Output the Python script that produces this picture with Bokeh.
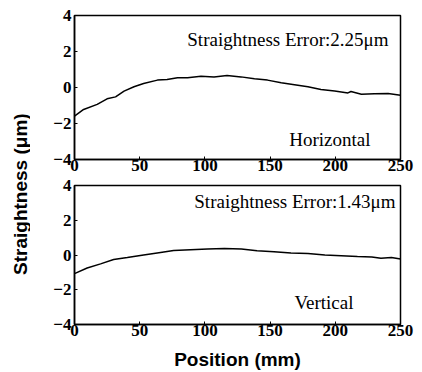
from bokeh.plotting import figure
from bokeh.layouts import row, column
from bokeh.models import Label, Range1d, FixedTicker
from bokeh.embed import file_html
from bokeh.resources import INLINE
import math

# Horizontal straightness data
h_pos = [0, 7, 17.4, 25, 31.5, 38, 45.6, 53, 63.6, 71, 79, 86.7, 97, 107, 117, 127.7,
         138, 148, 158.5, 168.7, 179, 189, 199.5, 209.7, 212, 220, 230, 240.5, 250]
h_err = [-1.59, -1.22, -0.94, -0.63, -0.52, -0.20, 0.04, 0.22, 0.41, 0.44, 0.54, 0.54,
         0.63, 0.59, 0.67, 0.59, 0.48, 0.41, 0.26, 0.15, 0.04, -0.11, -0.19, -0.30,
         -0.22, -0.37, -0.35, -0.33, -0.43]

# Vertical straightness data
v_pos = [0, 9.7, 20, 30, 40.5, 53, 66, 76, 89, 102, 115, 128, 140, 153, 166, 179,
         192, 204.5, 217, 228, 235, 243, 250]
v_err = [-1.07, -0.75, -0.51, -0.26, -0.15, 0.0, 0.15, 0.26, 0.30, 0.34, 0.38, 0.34,
         0.24, 0.19, 0.11, 0.08, 0.0, -0.04, -0.08, -0.11, -0.19, -0.15, -0.23]

x_ticks = [0, 50, 100, 150, 200, 250]
y_ticks = [-4, -2, 0, 2, 4]
panel_text = ["Straightness Error:2.25\u03bcm", "Straightness Error:1.43\u03bcm"]
panel_name = ["Horizontal", "Vertical"]

SERIF = "Liberation Serif"
SANS = "Liberation Sans"


def make_panel(xs, ys, err_txt, name, height, top, bottom, err_pos, name_pos, xlabel=None):
    p = figure(width=392, height=height, output_backend="svg", toolbar_location=None,
               x_range=Range1d(0, 250), y_range=Range1d(-4, 4),
               min_border_left=44, min_border_right=22,
               min_border_top=top, min_border_bottom=bottom)
    p.grid.visible = False
    p.outline_line_color = "black"
    p.outline_line_width = 1.5
    p.background_fill_color = "white"
    p.border_fill_color = "white"
    for ax in (p.xaxis[0], p.yaxis[0]):
        ax.axis_line_width = 1.5
        ax.major_tick_in = 3
        ax.major_tick_out = 0
        ax.minor_tick_in = 0
        ax.minor_tick_out = 0
        ax.major_label_text_font = SERIF
        ax.major_label_text_font_size = "17px"
        ax.major_label_text_font_style = "bold"
        ax.major_label_text_color = "black"
    p.xaxis.ticker = FixedTicker(ticks=x_ticks)
    p.yaxis.ticker = FixedTicker(ticks=y_ticks)
    p.xaxis.major_label_standoff = 0
    p.yaxis.major_label_standoff = 3
    if xlabel:
        p.xaxis.axis_label = xlabel
        p.xaxis.axis_label_text_font = SANS
        p.xaxis.axis_label_text_font_size = "19px"
        p.xaxis.axis_label_text_font_style = "bold"
        p.xaxis.axis_label_text_color = "black"
        p.xaxis.axis_label_standoff = 10
    p.line(xs, ys, line_color="black", line_width=1.5)
    p.add_layout(Label(x=err_pos[0], y=err_pos[1], x_units="screen", y_units="screen",
                       text=err_txt, text_font=SERIF, text_font_size="19px",
                       text_align="right", text_baseline="middle", text_color="black"))
    p.add_layout(Label(x=name_pos[0], y=name_pos[1], x_units="screen", y_units="screen",
                       text=name, text_font=SERIF, text_font_size="19px",
                       text_align="right", text_baseline="middle", text_color="black"))
    return p


# screen positions relative to the plot frame (x from left, y from bottom)
top = make_panel(h_pos, h_err, panel_text[0], panel_name[0], 175, 15, 16,
                 (314, 120), (296, 20))
bot = make_panel(v_pos, v_err, panel_text[1], panel_name[1], 197, 10, 45,
                 (321, 123), (279, 22), "Position (mm)")

lab = figure(width=30, height=372, output_backend="svg", toolbar_location=None,
             x_range=Range1d(0, 1), y_range=Range1d(0, 1),
             min_border=0)
lab.axis.visible = False
lab.grid.visible = False
lab.outline_line_color = None
lab.add_layout(Label(x=20, y=181, x_units="screen", y_units="screen",
                     text="Straightness  (\u03bcm)", angle=math.pi / 2,
                     text_font=SANS, text_font_size="19px", text_font_style="bold",
                     text_align="center", text_baseline="middle", text_color="black"))

layout = row(lab, column(top, bot, spacing=0), spacing=0)
open("out.html", "w").write(file_html(layout, INLINE))
